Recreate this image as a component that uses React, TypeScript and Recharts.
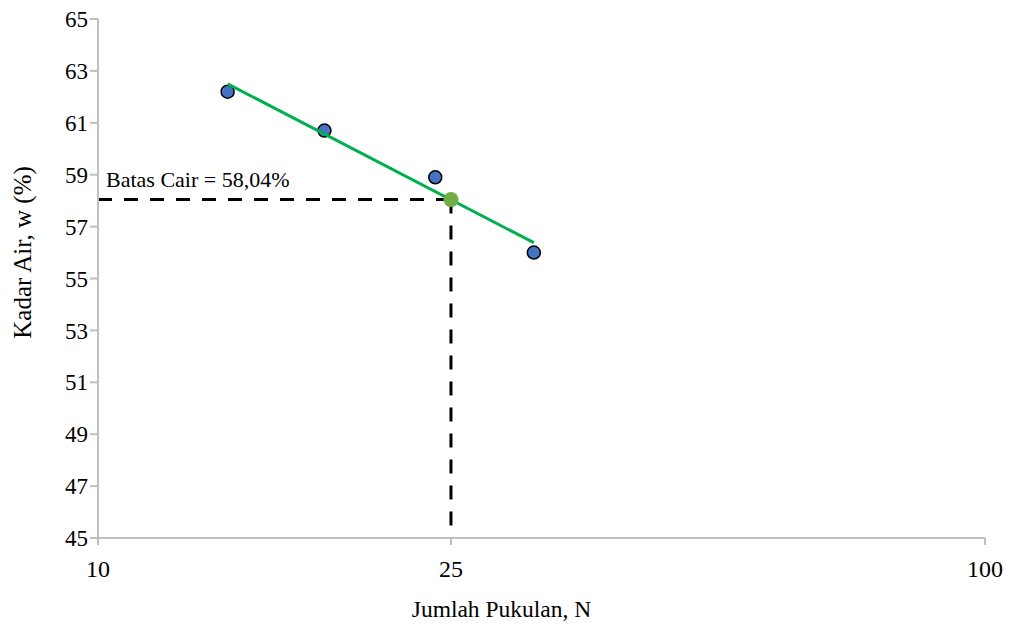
import { ComposedChart, Scatter, XAxis, YAxis, ReferenceLine, Label } from 'recharts';

// uji batas cair (Casagrande)
const blows = [14, 18, 24, 31];
const waterContent = [62.2, 60.7, 58.9, 56.0];

// garis tren logaritmik (ujung-ujung)
const trendN = [14, 31];
const trendW = [62.5, 56.38];

const liquidLimitN = 25;
const liquidLimit = 58.04;

const xTicks = [10, 25, 100];
const yTicks = [45, 47, 49, 51, 53, 55, 57, 59, 61, 63, 65];

const points = blows.map((n, i) => ({ n, w: waterContent[i] }));
const trend = trendN.map((n, i) => ({ n, w: trendW[i] }));
const llPoint = [{ n: liquidLimitN, w: liquidLimit }];

const font = 'Liberation Serif';
const axisColor = '#bfbfbf';

export default function App() {
  return (
    <ComposedChart
      width={1007}
      height={614}
      margin={{ top: 11, right: 30, bottom: 24, left: 30 }}
      style={{ fontFamily: font, overflow: 'visible' }}
    >
      <XAxis
        type="number"
        dataKey="n"
        scale="log"
        domain={[10, 100]}
        ticks={xTicks}
        allowDataOverflow
        stroke={axisColor}
        strokeWidth={2}
        tickSize={7}
        tickMargin={15}
        tick={{ fill: '#000', fontSize: 24, fontFamily: font }}
        height={60}
      >
        <Label
          content={({ viewBox }: any) => (
            <text x={viewBox.x + viewBox.width / 2 - 40} y={609} textAnchor="middle"
              fill="#000" fontSize={23.5} fontFamily={font}>
              Jumlah Pukulan, N
            </text>
          )}
        />
      </XAxis>
      <YAxis
        type="number"
        dataKey="w"
        domain={[45, 65]}
        ticks={yTicks}
        interval={0}
        stroke={axisColor}
        strokeWidth={2}
        tickSize={8}
        tickMargin={2}
        tick={{ fill: '#000', fontSize: 23, fontFamily: font }}
        width={60}
      >
        <Label
          content={({ viewBox }: any) => {
            const x = 14;
            const y = viewBox.y + viewBox.height / 2 - 26;
            return (
              <text x={x} y={y} transform={`rotate(-90 ${x} ${y})`} textAnchor="middle" dominantBaseline="central"
                fill="#000" fontSize={25} fontFamily={font}>
                Kadar Air, w (%)
              </text>
            );
          }}
        />
      </YAxis>
      <ReferenceLine
        segment={[{ x: 10, y: liquidLimit }, { x: liquidLimitN, y: liquidLimit }]}
        stroke="#000"
        strokeWidth={3}
        strokeDasharray="14 12"
      >
        <Label value="Batas Cair = 58,04%" position="insideTopLeft" offset={0} dy={-28} dx={8} style={{ fill: '#000', fontSize: 22, fontFamily: font }} />
      </ReferenceLine>
      <ReferenceLine
        segment={[{ x: liquidLimitN, y: liquidLimit }, { x: liquidLimitN, y: 45 }]}
        stroke="#000"
        strokeWidth={3}
        strokeDasharray="14 12"
      />
      <Scatter data={points} fill="#4472c4" isAnimationActive={false}
        shape={(p: any) => <circle cx={p.cx} cy={p.cy} r={6.5} fill="#4472c4" stroke="#000" strokeWidth={1.5} />} />
      <Scatter data={trend} line={{ stroke: '#00b050', strokeWidth: 3 }} shape={() => <g />} isAnimationActive={false} />
      <Scatter data={llPoint} isAnimationActive={false}
        shape={(p: any) => <circle cx={p.cx} cy={p.cy} r={7.5} fill="#70ad47" />} />
    </ComposedChart>
  );
}
